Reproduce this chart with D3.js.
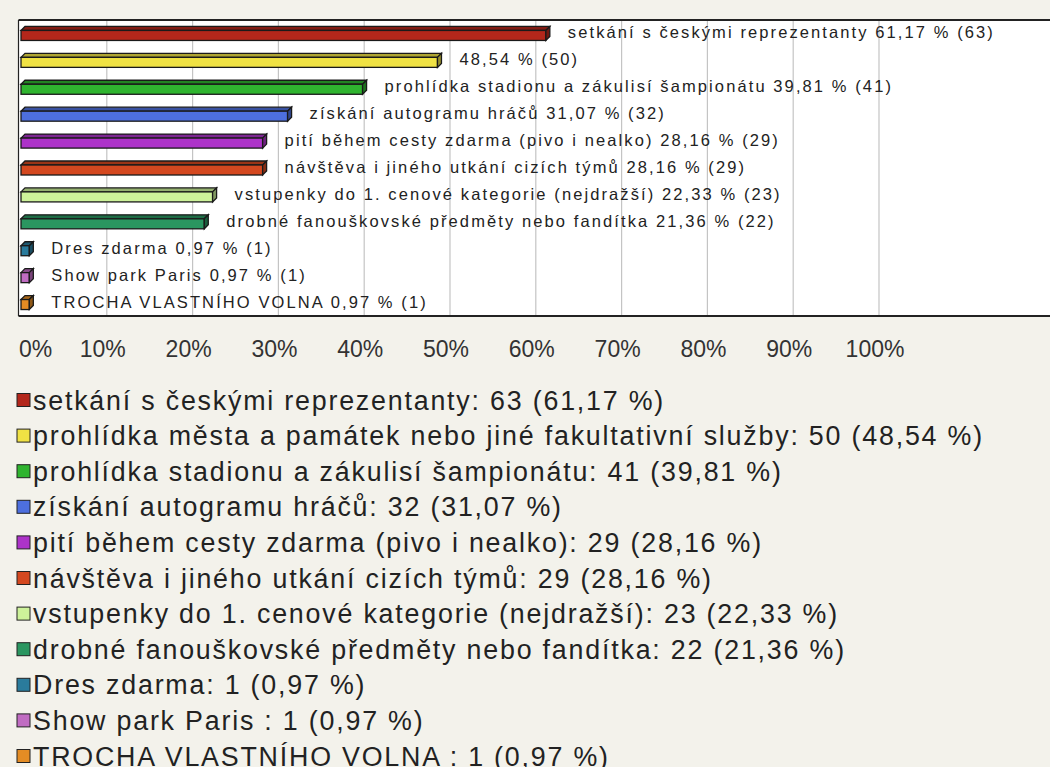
<!DOCTYPE html>
<html>
<head>
<meta charset="utf-8">
<script src="https://cdn.jsdelivr.net/npm/d3@7/dist/d3.min.js"></script>
<style>
  html, body { margin: 0; padding: 0; background: #f3f2eb; }
  svg { display: block; font-family: "Liberation Sans", Arial, sans-serif; }
</style>
</head>
<body>
<svg id="chart" width="1050" height="767"></svg>
<script>
// Answer options (legend names), counts and shares in percent
const categories = [
  "setkání s českými reprezentanty",
  "prohlídka města a památek nebo jiné fakultativní služby",
  "prohlídka stadionu a zákulisí šampionátu",
  "získání autogramu hráčů",
  "pití během cesty zdarma (pivo i nealko)",
  "návštěva i jiného utkání cizích týmů",
  "vstupenky do 1. cenové kategorie (nejdražší)",
  "drobné fanouškovské předměty nebo fandítka",
  "Dres zdarma",
  "Show park Paris ",
  "TROCHA VLASTNÍHO VOLNA "
];
const counts = [63, 50, 41, 32, 29, 29, 23, 22, 1, 1, 1];
const percents = [61.17, 48.54, 39.81, 31.07, 28.16, 28.16, 22.33, 21.36, 0.97, 0.97, 0.97];
const colors = ["#b3271b", "#f0e244", "#2fb42f", "#4d6fde", "#ad33c9", "#d4481f",
                "#cdf29a", "#2a9660", "#2a7b9c", "#c06cc2", "#e48c24"];
const tickValues = [0, 10, 20, 30, 40, 50, 60, 70, 80, 90, 100];

const fmt = v => v.toFixed(2).replace(".", ",");
const svg = d3.select("#chart");

// Plot frame
const frame = { left: 18.5, top: 20, bottom: 316 };
const x = d3.scaleLinear().domain([0, 100]).range([21, 879]);
const y = d3.scaleBand().domain(d3.range(categories.length)).range([frame.top, frame.bottom]);

svg.append("rect")
  .attr("x", frame.left).attr("y", frame.top)
  .attr("width", 1100).attr("height", frame.bottom - frame.top)
  .attr("fill", "#ffffff");

// Vertical grid lines
svg.append("g").selectAll("line")
  .data(tickValues.filter(t => t > 0))
  .join("line")
  .attr("x1", d => x(d)).attr("x2", d => x(d))
  .attr("y1", frame.top).attr("y2", frame.bottom)
  .attr("stroke", "#c4c4c4").attr("stroke-width", 1.2);

// 3D bars: front face, top face and right face
const depth = 4, faceH = 10;
const bars = svg.append("g").selectAll("g")
  .data(percents.map((p, i) => ({ p, i })))
  .join("g");

bars.each(function(d) {
  const g = d3.select(this);
  const c = y(d.i) + y.bandwidth() / 2;
  const x0 = x(0), x1 = x(d.p);
  const yf = c - 3;
  const col = d3.color(colors[d.i]);
  g.append("polygon")
    .attr("points", [[x0, yf], [x0 + depth, yf - depth], [x1 + depth, yf - depth], [x1, yf]].join(" "))
    .attr("fill", col.darker(0.9)).attr("stroke", "#1a1a1a").attr("stroke-width", 1.3);
  g.append("rect")
    .attr("x", x0).attr("y", yf).attr("width", x1 - x0).attr("height", faceH)
    .attr("fill", col).attr("stroke", "#1a1a1a").attr("stroke-width", 1.3);
  g.append("polygon")
    .attr("points", [[x1, yf], [x1 + depth, yf - depth], [x1 + depth, yf + faceH - depth], [x1, yf + faceH]].join(" "))
    .attr("fill", col.darker(1.3)).attr("stroke", "#1a1a1a").attr("stroke-width", 1.3);
});

// Value labels next to the bars (long names are left out)
svg.append("g").selectAll("text")
  .data(percents.map((p, i) => ({ p, i })))
  .join("text")
  .attr("x", d => x(d.p) + 22)
  .attr("y", d => y(d.i) + y.bandwidth() / 2 + 5)
  .attr("font-size", 16.5)
  .attr("letter-spacing", 2.1)
  .attr("fill", "#222")
  .text(d => {
    const name = categories[d.i].length > 50 ? "" : categories[d.i].trim() + " ";
    return name + fmt(d.p) + " % (" + counts[d.i] + ")";
  });

// Frame border
svg.append("line").attr("x1", frame.left).attr("x2", 1050).attr("y1", frame.top).attr("y2", frame.top)
  .attr("stroke", "#222").attr("stroke-width", 2);
svg.append("line").attr("x1", frame.left).attr("x2", 1050).attr("y1", frame.bottom).attr("y2", frame.bottom)
  .attr("stroke", "#222").attr("stroke-width", 2);
svg.append("line").attr("x1", frame.left).attr("x2", frame.left).attr("y1", frame.top).attr("y2", frame.bottom)
  .attr("stroke", "#222").attr("stroke-width", 1.2);

// Percent axis below the frame
const axis = d3.axisBottom(x).tickValues(tickValues).tickSize(0).tickPadding(0)
  .tickFormat(d => d + "%");
const axisG = svg.append("g").attr("transform", "translate(0,357)").call(axis);
axisG.select(".domain").remove();
axisG.selectAll("text")
  .attr("font-family", "\"Liberation Sans\", Arial, sans-serif")
  .attr("font-size", 23)
  .attr("fill", "#333")
  .attr("dy", 0)
  .attr("x", -4.5)
  .attr("text-anchor", "middle");
axisG.selectAll(".tick").filter(d => d === 0).select("text")
  .attr("text-anchor", "start")
  .attr("x", frame.left - x(0));

// Legend
const legendTop = 400, legendStep = 35.6;
const legend = svg.append("g").selectAll("g")
  .data(categories.map((name, i) => ({ name, i })))
  .join("g")
  .attr("transform", d => `translate(0,${legendTop + d.i * legendStep})`);
legend.append("rect")
  .attr("x", 17).attr("y", -6.5).attr("width", 13).attr("height", 13)
  .attr("fill", d => colors[d.i]).attr("stroke", "#222").attr("stroke-width", 1);
legend.append("text")
  .attr("x", 33).attr("y", 9.5)
  .attr("font-size", 26.8)
  .attr("letter-spacing", 1.8)
  .attr("fill", "#222")
  .text(d => d.name + ": " + counts[d.i] + " (" + fmt(percents[d.i]) + " %)");
</script>
</body>
</html>
